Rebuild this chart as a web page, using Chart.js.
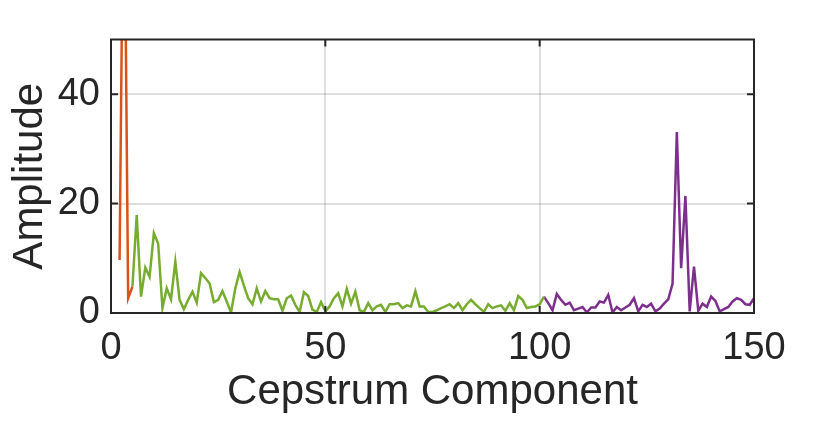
<!DOCTYPE html>
<html>
<head>
<meta charset="utf-8">
<script src="https://cdn.jsdelivr.net/npm/chart.js@4"></script>
<style>
  html, body { margin: 0; padding: 0; background: #ffffff; }
  #wrap { width: 830px; height: 430px; position: relative; }
</style>
</head>
<body>
<div id="wrap"><canvas id="c" width="830" height="430"></canvas></div>
<script>
// ---- data ----
const xTitle = 'Cepstrum Component';
const yTitle = 'Amplitude';
const xTickValues = [0, 50, 100, 150];
const yTickValues = [0, 20, 40];

const orangeStart = 2;
const orangeValues = [9.7, 90, 2.7, 4.8];

const greenStart = 5;
const greenValues = [
  4.8, 17.9, 3.0, 8.3, 6.6, 14.6, 12.7, 0.9, 4.5, 2.5,
  9.4, 2.4, 0.7, 2.4, 3.9, 1.9, 7.3, 6.4, 5.4, 2.0,
  2.4, 4.0, 2.1, 0.1, 4.5, 7.5, 5.0, 2.7, 1.6, 4.5,
  2.1, 4.0, 2.7, 2.5, 2.5, 0.4, 2.7, 3.2, 1.5, 0.2,
  3.8, 3.1, 0.6, 0.2, 2.0, 0.3, 1.2, 2.7, 3.6, 1.2,
  4.4, 1.7, 3.9, 0.5, 0.2, 1.8, 0.5, 1.2, 1.5, 0.2,
  1.6, 1.6, 1.8, 0.9, 1.4, 1.2, 4.0, 1.2, 1.2, 0.2,
  0.2, 0.5, 0.9, 1.2, 1.6, 0.9, 1.8, 0.5, 1.6, 2.4,
  1.6, 0.9, 0.2, 1.6, 0.9, 1.2, 1.4, 0.4, 1.8, 0.5,
  3.1, 2.4, 0.9, 1.1, 1.2, 1.6, 3.0
];

const purpleStart = 101;
const purpleValues = [
  3.0, 1.8, 0.5, 3.5, 2.4, 1.5, 1.9, 0.5, 0.8, 1.1,
  0.1, 1.0, 1.0, 2.1, 1.9, 3.3, 0.1, 1.1, 0.5, 1.0,
  1.5, 2.7, 0.3, 1.5, 1.1, 1.7, 0.3, 0.8, 1.7, 2.5,
  5.4, 33.1, 8.2, 21.4, 0.3, 8.5, 0.4, 1.7, 1.1, 3.0,
  2.2, 0.3, 0.7, 1.1, 2.1, 2.7, 2.4, 1.6, 1.5, 2.7
];

// ---- styles ----
const TEXT = '#262626';
const FONT = "'Liberation Sans', Arial, Helvetica, sans-serif";
const COL_ORANGE = '#D95319';
const COL_GREEN = '#77AC30';
const COL_PURPLE = '#7E2F8E';

function toPoints(start, vals) {
  return vals.map((v, i) => ({ x: start + i, y: v }));
}

const boxPlugin = {
  id: 'boxPlugin',
  afterDatasetsDraw(chart) {
    const { ctx, chartArea: a, scales: { x, y } } = chart;
    ctx.save();
    ctx.strokeStyle = TEXT;
    ctx.lineWidth = 2;
    ctx.beginPath();
    ctx.rect(a.left, a.top, a.right - a.left, a.bottom - a.top);
    ctx.stroke();
    const tl = 7;
    ctx.beginPath();
    xTickValues.forEach(v => {
      const px = x.getPixelForValue(v);
      ctx.moveTo(px, a.bottom); ctx.lineTo(px, a.bottom - tl);
      ctx.moveTo(px, a.top); ctx.lineTo(px, a.top + tl);
    });
    yTickValues.forEach(v => {
      const py = y.getPixelForValue(v);
      ctx.moveTo(a.left, py); ctx.lineTo(a.left + tl, py);
      ctx.moveTo(a.right, py); ctx.lineTo(a.right - tl, py);
    });
    ctx.stroke();
    ctx.restore();
  }
};

const gridColor = (lo, hi) => (c) => {
  const v = c.tick && c.tick.value;
  return (v > lo && v < hi) ? 'rgba(38,38,38,0.15)' : 'rgba(0,0,0,0)';
};

new Chart(document.getElementById('c'), {
  type: 'line',
  data: {
    datasets: [
      { data: toPoints(orangeStart, orangeValues), borderColor: COL_ORANGE },
      { data: toPoints(greenStart, greenValues), borderColor: COL_GREEN },
      { data: toPoints(purpleStart, purpleValues), borderColor: COL_PURPLE }
    ].map(d => Object.assign(d, {
      borderWidth: 2.5, pointRadius: 0, tension: 0, fill: false, clip: 0
    }))
  },
  options: {
    responsive: false,
    animation: false,
    events: [],
    layout: { padding: { left: 0, right: 76, top: 39.5, bottom: 0 } },
    plugins: { legend: { display: false }, tooltip: { enabled: false } },
    scales: {
      x: {
        type: 'linear', min: 0, max: 150,
        afterBuildTicks: s => { s.ticks = xTickValues.map(v => ({ value: v })); },
        afterFit: s => { s.height = 117; },
        ticks: { color: TEXT, font: { family: FONT, size: 38 }, padding: 13, maxRotation: 0 },
        grid: { color: gridColor(0, 150), lineWidth: 2, drawTicks: false },
        border: { display: false },
        title: { display: true, text: xTitle, color: TEXT, font: { family: FONT, size: 42 }, padding: { top: 0, bottom: 12 } }
      },
      y: {
        type: 'linear', min: 0, max: 50,
        afterBuildTicks: s => { s.ticks = yTickValues.map(v => ({ value: v })); },
        afterFit: s => { s.width = 111; },
        ticks: { color: TEXT, font: { family: FONT, size: 38 }, padding: 11 },
        grid: { color: gridColor(0, 50), lineWidth: 2, drawTicks: false },
        border: { display: false },
        title: { display: true, text: yTitle, color: TEXT, font: { family: FONT, size: 42 }, padding: { top: 5, bottom: 0 } }
      }
    }
  },
  plugins: [boxPlugin]
});
</script>
</body>
</html>
